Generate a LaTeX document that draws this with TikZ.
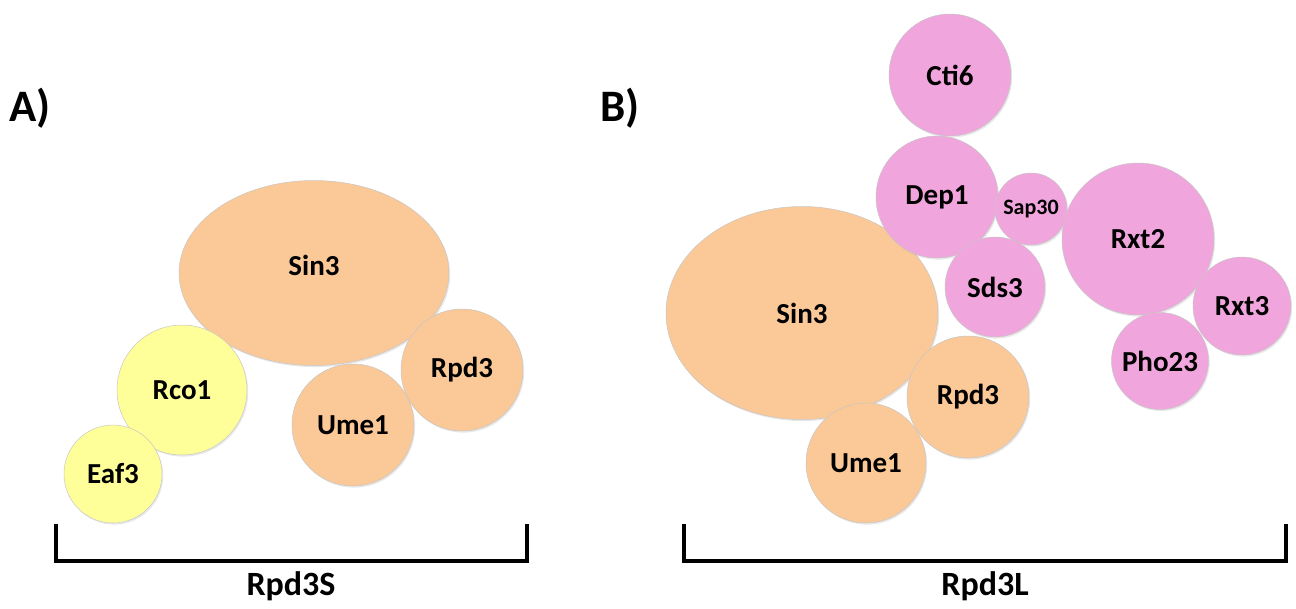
\documentclass[tikz,border=0pt]{standalone}
\usepackage{fontspec}
\setmainfont{Carlito}
\usetikzlibrary{shapes.geometric,shadows}

\definecolor{peach}{HTML}{FBC898}
\definecolor{lemon}{HTML}{FFFF99}
\definecolor{orchid}{HTML}{F0A5DC}

\begin{document}
\begin{tikzpicture}[x=1pt,y=-1pt,
  prot/.style={circle,inner sep=0pt,draw=black!22,line width=0.5pt,
    font=\fontsize{29}{30}\selectfont\bfseries,
    drop shadow={shadow xshift=1.2pt,shadow yshift=-1.6pt,opacity=0.18}},
  big/.style={prot,ellipse},
  tag/.style={font=\fontsize{34}{36}\selectfont\bfseries},
  panel/.style={font=\fontsize{45}{48}\selectfont\bfseries},
  bracket/.style={line width=3.2pt,line join=miter}]

\useasboundingbox (0,0) rectangle (1296,608);

% A) Rpd3S
\node [panel] (pA) at (30,108) {A)};

\node [big,fill=peach,minimum width=270,minimum height=185] (sinA) at (314,273) {};
\node (sinAtxt) at (314,265) [font=\fontsize{29}{30}\selectfont\bfseries] {Sin3};
\node [prot,fill=peach,minimum size=122] (umeA) at (353,425) {Ume1};
\node [prot,fill=peach,minimum size=122] (rpdA) at (462,370) {Rpd3};
\node [prot,fill=lemon,minimum size=130] (rcoA) at (182,390) {Rco1};
\node [prot,fill=lemon,minimum size=98] (eafA) at (113,474) {Eaf3};

\coordinate (aTL) at (56,524);
\coordinate (aBL) at (56,561);
\coordinate (aBR) at (527,561);
\coordinate (aTR) at (527,524);
\draw [bracket] (aTL) -- (aBL) -- (aBR) -- (aTR);
\node [tag] (rpd3S) at (291,586) {Rpd3S};

% B) Rpd3L
\node [panel] (pB) at (620,108) {B)};

\node [big,fill=peach,minimum width=272,minimum height=213] (sinB) at (802,313) {Sin3};
\node [prot,fill=peach,minimum size=122] (rpdB) at (968,397) {Rpd3};
\node [prot,fill=peach,minimum size=120] (umeB) at (866,463) {Ume1};

\node [prot,fill=orchid,minimum size=122] (ctiB) at (950,75) {Cti6};
\node [prot,fill=orchid,minimum size=122] (depB) at (937,197) {Dep1};
\node [prot,fill=orchid,minimum size=72,font=\fontsize{22}{24}\selectfont\bfseries] (sapB) at (1031,209) {Sap30};
\node [prot,fill=orchid,minimum size=100] (sdsB) at (995,287) {Sds3};
\node [prot,fill=orchid,minimum size=152] (rxt2B) at (1138,239) {Rxt2};
\node [prot,fill=orchid,minimum size=97] (phoB) at (1160,361) {Pho23};
\node [prot,fill=orchid,minimum size=98] (rxt3B) at (1242,306) {Rxt3};

\coordinate (bTL) at (684,524);
\coordinate (bBL) at (684,561);
\coordinate (bBR) at (1286,561);
\coordinate (bTR) at (1286,524);
\draw [bracket] (bTL) -- (bBL) -- (bBR) -- (bTR);
\node [tag] (rpd3L) at (985,586) {Rpd3L};

\end{tikzpicture}
\end{document}
